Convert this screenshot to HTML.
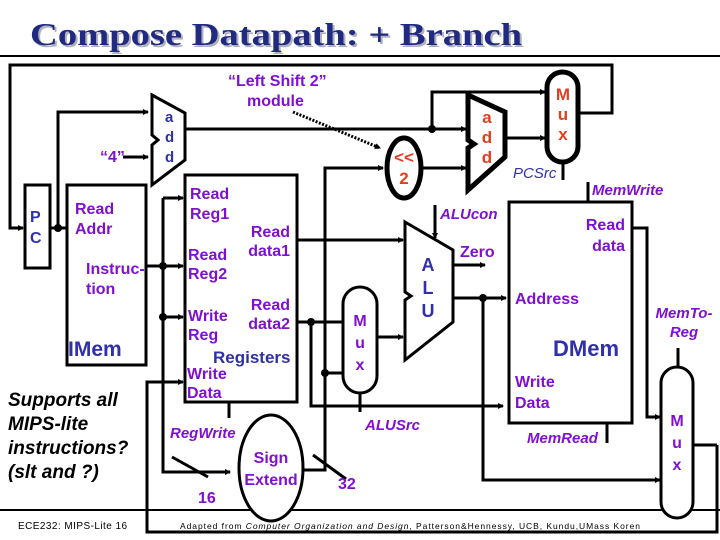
<!DOCTYPE html>
<html><head><meta charset="utf-8"><style>
body{margin:0;background:#fff;}
svg{display:block;font-family:"Liberation Sans",sans-serif;}
.p{fill:#8010d0;font-weight:bold;font-size:16px;}
.pi{fill:#8010d0;font-weight:bold;font-style:italic;font-size:15px;}
.b{fill:#3030a8;font-weight:bold;}
.r{fill:#e04020;font-weight:bold;font-size:17px;}
</style></head><body>
<svg width="720" height="540" viewBox="0 0 720 540">
<defs><marker id="a" markerWidth="6" markerHeight="6" refX="5" refY="3" orient="auto" markerUnits="userSpaceOnUse" viewBox="0 0 6 6"><path d="M0,0L6,3L0,6z" fill="#000"/></marker></defs>
<text x="32" y="47" font-family="Liberation Serif,serif" font-size="32" font-weight="bold" fill="#b0b0c0" textLength="492" lengthAdjust="spacingAndGlyphs">Compose Datapath:  + Branch</text>
<text x="30" y="45" font-family="Liberation Serif,serif" font-size="32" font-weight="bold" fill="#202a80" textLength="492" lengthAdjust="spacingAndGlyphs">Compose Datapath:  + Branch</text>
<line x1="0" y1="56" x2="720" y2="56" stroke="#000" stroke-width="2"/>
<line x1="0" y1="510" x2="720" y2="510" stroke="#000" stroke-width="2"/>
<g stroke="#000" stroke-width="3" fill="none">
<polyline points="578,113 612,113 612,65 10,65 10,228 23,228" marker-end="url(#a)"/>
<rect x="25" y="185" width="25" height="83" fill="#fff"/>
<line x1="50" y1="228" x2="67" y2="228"/>
<polyline points="58,228 58,112 148,112" marker-end="url(#a)"/>
<line x1="123" y1="157" x2="148" y2="157" marker-end="url(#a)"/>
<polygon points="152,95 185,113 185,160 152,185 152,145 158,140 152,135" fill="#fff"/>
<line x1="185" y1="129" x2="466" y2="129" marker-end="url(#a)"/>
<polyline points="432,129 432,92 545,92" marker-end="url(#a)"/>
<rect x="67" y="185" width="79" height="180"/>
<line x1="146" y1="266" x2="163" y2="266"/>
<polyline points="163,198 163,472 230,472" marker-end="url(#a)"/>
<line x1="163" y1="198" x2="183" y2="198" marker-end="url(#a)"/>
<line x1="163" y1="266" x2="183" y2="266" marker-end="url(#a)"/>
<line x1="163" y1="317" x2="183" y2="317" marker-end="url(#a)"/>
<line x1="172" y1="457" x2="208" y2="477"/>
<rect x="185" y="175" width="112" height="227"/>
<polyline points="717,445 717,532 147,532 147,382 183,382" marker-end="url(#a)"/>
<line x1="229" y1="402" x2="229" y2="418"/>
<line x1="297" y1="240" x2="403" y2="240" marker-end="url(#a)"/>
<line x1="297" y1="322" x2="343" y2="322"/>
<polyline points="311,322 311,406 503,406" marker-end="url(#a)"/>
<polyline points="303,470 325,470 325,168 383,168" marker-end="url(#a)"/>
<line x1="325" y1="373" x2="343" y2="373"/>
<line x1="313" y1="455" x2="346" y2="479"/>
<line x1="377" y1="337" x2="403" y2="337" marker-end="url(#a)"/>
<line x1="360" y1="393" x2="360" y2="412"/>
<line x1="422" y1="168" x2="466" y2="168" marker-end="url(#a)"/>
<line x1="505" y1="138" x2="545" y2="138" marker-end="url(#a)"/>
<line x1="563" y1="162" x2="563" y2="180"/>
<polygon points="405,222 453,250 453,322 405,360 405,300 411,296 405,292" fill="#fff"/>
<line x1="435" y1="205" x2="435" y2="238" marker-end="url(#a)"/>
<line x1="453" y1="265" x2="485" y2="265" marker-end="url(#a)"/>
<line x1="453" y1="298" x2="506" y2="298" marker-end="url(#a)"/>
<polyline points="483,298 483,480 660,480" marker-end="url(#a)"/>
<rect x="509" y="202" width="123" height="221"/>
<line x1="588" y1="182" x2="588" y2="202"/>
<line x1="607" y1="423" x2="607" y2="443"/>
<polyline points="632,228 647,228 647,417 660,417" marker-end="url(#a)"/>
<line x1="678" y1="348" x2="678" y2="367"/>
<line x1="693" y1="445" x2="717" y2="445"/>
<rect x="343" y="287" width="34" height="106" rx="17" fill="#fff"/>
<rect x="661" y="367" width="32" height="151" rx="16" fill="#fff"/>
<ellipse cx="271" cy="468" rx="32" ry="53" fill="#fff"/>
</g>
<polygon points="468,95 505,112 505,157 468,190 468,148 474,144 468,140" fill="#fff" stroke="#000" stroke-width="5"/>
<ellipse cx="404" cy="168" rx="17" ry="30" fill="#fff" stroke="#000" stroke-width="5"/>
<rect x="547" y="72" width="31" height="90" rx="15.5" fill="#fff" stroke="#000" stroke-width="5"/>
<line x1="293" y1="112" x2="380" y2="148" stroke="#000" stroke-width="3" stroke-dasharray="2,1.5" marker-end="url(#a)"/>
<g fill="#000">
<circle cx="58" cy="228" r="4"/><circle cx="163" cy="266" r="4"/><circle cx="163" cy="317" r="4"/>
<circle cx="311" cy="322" r="4"/><circle cx="325" cy="373" r="4"/><circle cx="432" cy="129" r="4"/><circle cx="483" cy="298" r="4"/>
</g>
<text class="b" font-size="16" x="30" y="222">P</text><text class="b" font-size="16" x="30" y="243">C</text>
<text class="b" font-size="15" x="165" y="122">a</text><text class="b" font-size="15" x="165" y="142">d</text><text class="b" font-size="15" x="165" y="162">d</text>
<text class="p" x="100" y="162">“4”</text>
<text class="p" x="228" y="86">“Left Shift 2”</text><text class="p" x="247" y="106">module</text>
<text class="p" x="75" y="214">Read</text><text class="p" x="75" y="234">Addr</text>
<text class="p" x="86" y="274">Instruc-</text><text class="p" x="86" y="294">tion</text>
<text class="b" font-size="21" x="68" y="356">IMem</text>
<text class="p" x="190" y="199">Read</text><text class="p" x="190" y="219">Reg1</text>
<text class="p" x="290" y="237" text-anchor="end">Read</text><text class="p" x="290" y="256" text-anchor="end">data1</text>
<text class="p" x="188" y="260">Read</text><text class="p" x="188" y="279">Reg2</text>
<text class="p" x="290" y="310" text-anchor="end">Read</text><text class="p" x="290" y="329" text-anchor="end">data2</text>
<text class="p" x="188" y="321">Write</text><text class="p" x="188" y="340">Reg</text>
<text class="b" font-size="17" x="213" y="363">Registers</text>
<text class="p" x="187" y="379">Write</text><text class="p" x="187" y="398">Data</text>
<text class="pi" x="170" y="438">RegWrite</text>
<text class="p" font-size="17" x="271" y="463" text-anchor="middle">Sign</text><text class="p" font-size="17" x="271" y="485" text-anchor="middle">Extend</text>
<text class="p" font-size="18" x="198" y="503">16</text><text class="p" font-size="18" x="338" y="489">32</text>
<text class="p" x="360" y="326" text-anchor="middle">M</text><text class="p" x="360" y="348" text-anchor="middle">u</text><text class="p" x="360" y="370" text-anchor="middle">x</text>
<text class="pi" x="365" y="430">ALUSrc</text>
<text class="r" x="404" y="163" text-anchor="middle">&lt;&lt;</text><text class="r" x="404" y="184" text-anchor="middle">2</text>
<text class="r" x="487" y="123" text-anchor="middle">a</text><text class="r" x="487" y="143" text-anchor="middle">d</text><text class="r" x="487" y="163" text-anchor="middle">d</text>
<text class="r" x="563" y="100" text-anchor="middle">M</text><text class="r" x="563" y="120" text-anchor="middle">u</text><text class="r" x="563" y="140" text-anchor="middle">x</text>
<text x="513" y="178" font-size="15" font-style="italic" fill="#3030a8">PCSrc</text>
<text class="b" font-size="18" x="428" y="271" text-anchor="middle">A</text><text class="b" font-size="18" x="428" y="294" text-anchor="middle">L</text><text class="b" font-size="18" x="428" y="317" text-anchor="middle">U</text>
<text class="pi" x="440" y="219">ALUcon</text>
<text class="p" font-size="18" x="460" y="257">Zero</text>
<text class="pi" x="592" y="195">MemWrite</text>
<text class="p" font-size="17" x="625" y="230" text-anchor="end">Read</text><text class="p" font-size="17" x="625" y="251" text-anchor="end">data</text>
<text class="p" font-size="17" x="515" y="304">Address</text>
<text class="b" font-size="22" x="553" y="356">DMem</text>
<text class="p" font-size="17" x="515" y="387">Write</text><text class="p" font-size="17" x="515" y="408">Data</text>
<text class="pi" x="527" y="443">MemRead</text>
<text class="pi" x="684" y="318" text-anchor="middle">MemTo-</text><text class="pi" x="684" y="337" text-anchor="middle">Reg</text>
<text class="p" x="677" y="426" text-anchor="middle">M</text><text class="p" x="677" y="448" text-anchor="middle">u</text><text class="p" x="677" y="470" text-anchor="middle">x</text>
<g font-size="19" font-weight="bold" font-style="italic" fill="#000">
<text x="8" y="406">Supports all</text><text x="8" y="430">MIPS-lite</text><text x="8" y="454">instructions?</text><text x="8" y="478">(slt and ?)</text>
</g>
<text x="18" y="529" font-size="10" fill="#000" textLength="109" lengthAdjust="spacing">ECE232: MIPS-Lite 16</text>
<text x="180" y="529" font-size="8.5" fill="#000" textLength="460" lengthAdjust="spacing">Adapted from <tspan font-style="italic">Computer Organization and Design</tspan>, Patterson&amp;Hennessy, UCB, Kundu,UMass      Koren</text>
</svg>
</body></html>
